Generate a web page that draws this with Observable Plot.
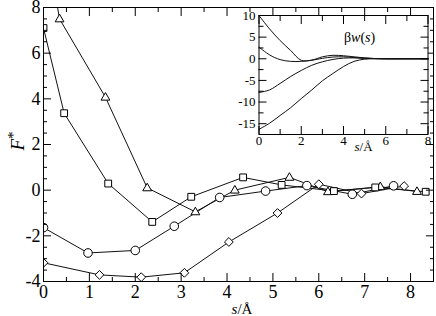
<!DOCTYPE html>
<html><head><meta charset="utf-8">
<script src="https://cdn.jsdelivr.net/npm/d3@7"></script>
<script src="https://cdn.jsdelivr.net/npm/@observablehq/plot@0.6"></script>
<style>
html,body{margin:0;padding:0;background:#fff;}
#wrap{position:relative;width:436px;height:316px;overflow:hidden;background:#fff;}
#inset{position:absolute;left:230px;top:5px;}
svg{display:block}
</style></head><body><div id="wrap"><div id="main"></div><div id="inset"></div></div>
<script>
// ---- main chart data (s in Å, F*) ----
const triS = [0, 0.35, 1.35, 2.26, 3.31, 4.17, 5.36, 6.2, 7.34, 8.14];
const triF = [11.5, 7.5, 4.07, 0.1, -0.95, 0.0, 0.56, -0.07, 0.15, -0.06];
const sqS  = [0, 0.45, 1.41, 2.37, 3.22, 4.35, 5.19, 6.33, 7.23, 8.33];
const sqF  = [7.1, 3.37, 0.29, -1.39, -0.29, 0.56, 0.23, -0.04, 0.12, -0.07];
const cirS = [0, 0.97, 2.0, 2.85, 3.84, 4.84, 5.74, 6.73, 7.63];
const cirF = [-1.64, -2.75, -2.64, -1.58, -0.32, -0.04, 0.2, -0.18, 0.19];
const diaS = [0, 1.22, 2.13, 3.07, 4.04, 5.1, 6.0, 6.93, 7.86];
const diaF = [-3.18, -3.71, -3.81, -3.62, -2.27, -1.0, 0.26, -0.15, 0.18];

const xMajor = [0, 1, 2, 3, 4, 5, 6, 7, 8];
const xMinor = [0.5, 1.5, 2.5, 3.5, 4.5, 5.5, 6.5, 7.5];
const yMajor = [-4, -2, 0, 2, 4, 6, 8];
const yMinor = [-3.5, -3, -2.5, -1.5, -1, -0.5, 0.5, 1, 1.5, 2.5, 3, 3.5, 4.5, 5, 5.5, 6.5, 7, 7.5];
const xLabel = "s/Å";
const yLabel = "F*";

// ---- inset data: beta w(s) ----
const wS = [0, 0.5, 1, 1.5, 2, 2.5, 3, 3.5, 4, 4.5, 5, 5.5, 6, 7, 8];
const wA = [10, 6.9, 4.2, 1.9, -0.35, -0.3, 0.45, 0.8, 0.7, 0.45, 0.2, 0.05, 0, 0, 0];
const wB = [2.7, 0.9, -0.2, -0.6, -0.6, -0.35, 0.1, 0.4, 0.45, 0.3, 0.15, 0.05, 0, 0, 0];
const wC = [-7.8, -7.2, -5.7, -4.1, -2.7, -1.5, -0.7, -0.15, 0.15, 0.2, 0.1, 0.03, 0, 0, 0];
const wD = [-16.3, -14.9, -13.1, -11.3, -9.2, -7.2, -5.1, -3.4, -1.8, -0.6, -0.1, 0, 0, 0, 0];
const ixMajor = [0, 2, 4, 6, 8];
const ixMinor = [1, 3, 5, 7];
const iyMajor = [-15, -10, -5, 0, 5, 10];
const iyMinor = [-12.5, -7.5, -2.5, 2.5, 7.5];
const insetTitle = "βw(s)";
const insetXLabel = "s/Å";

const pts = (xs, ys) => xs.map((x, i) => ({x, y: ys[i]}));

// custom marker shapes
const symCircle = {draw(c){ c.moveTo(4.3,0); c.arc(0,0,4.3,0,2*Math.PI); c.closePath(); }};
const symSquare = {draw(c){ c.moveTo(-3.4,-3.4); c.lineTo(3.4,-3.4); c.lineTo(3.4,3.4); c.lineTo(-3.4,3.4); c.closePath(); }};
const symTri = {draw(c){ c.moveTo(0,-4.7); c.lineTo(4.4,2.9); c.lineTo(-4.4,2.9); c.closePath(); }};
const symDia = {draw(c){ c.moveTo(0,-4.4); c.lineTo(4.4,0); c.lineTo(0,4.4); c.lineTo(-4.4,0); c.closePath(); }};

const fmt = d => String(d);
const serif = "Liberation Serif";
const series = [
  [pts(triS, triF), symTri],
  [pts(sqS, sqF), symSquare],
  [pts(cirS, cirF), symCircle],
  [pts(diaS, diaF), symDia]
];

const main = Plot.plot({
  width: 436, height: 316,
  marginLeft: 43, marginRight: 3, marginTop: 7, marginBottom: 35,
  x: {domain: [0, 8.5]},
  y: {domain: [-4, 8]},
  style: {fontFamily: serif, fontSize: "18px", background: "white", color: "black"},
  marks: [
    ...series.map(([d]) => Plot.line(d, {x: "x", y: "y", stroke: "#111", strokeWidth: 1, clip: true})),
    ...series.map(([d, s]) => Plot.dot(d, {x: "x", y: "y", symbol: s, fill: "white", stroke: "black", strokeWidth: 1, clip: true})),
    Plot.frame({stroke: "black"}),
    Plot.axisX(xMajor, {anchor: "bottom", tickSize: -8, tickPadding: 12, tickFormat: fmt, label: null}),
    Plot.axisX(xMinor, {anchor: "bottom", tickSize: -4, text: null, label: null}),
    Plot.axisX(xMajor, {anchor: "top", tickSize: -8, text: null, label: null}),
    Plot.axisX(xMinor, {anchor: "top", tickSize: -4, text: null, label: null}),
    Plot.axisY(yMajor, {anchor: "left", tickSize: -8, tickPadding: 11, tickFormat: fmt, label: null}),
    Plot.axisY(yMinor, {anchor: "left", tickSize: -4, text: null, label: null}),
    Plot.axisY(yMajor, {anchor: "right", tickSize: -8, text: null, label: null}),
    Plot.axisY(yMinor, {anchor: "right", tickSize: -4, text: null, label: null}),
    Plot.text([xLabel], {text: d => d, frameAnchor: "bottom", dx: 3.5, dy: 32, lineAnchor: "bottom", fontSize: 15}),
    Plot.text([yLabel], {text: d => d, frameAnchor: "left", dx: -26, dy: 6, rotate: -90, fontSize: 19})
  ]
});
document.getElementById("main").appendChild(main);

const inset = Plot.plot({
  width: 206, height: 150,
  marginLeft: 28.5, marginRight: 8.5, marginTop: 10, marginBottom: 21,
  x: {domain: [0, 8]},
  y: {domain: [-17.5, 10]},
  style: {fontFamily: serif, fontSize: "13px", background: "none", color: "black", overflow: "visible"},
  marks: [
    Plot.frame({fill: "white", stroke: null}),
    ...[wA, wB, wC, wD].map(w => Plot.line(pts(wS, w), {x: "x", y: "y", curve: "catmull-rom", stroke: "#111", strokeWidth: 1})),
    Plot.frame({stroke: "black"}),
    Plot.axisX(ixMajor, {anchor: "bottom", tickSize: -8, tickPadding: 9.5, tickFormat: fmt, label: null}),
    Plot.axisX(ixMinor, {anchor: "bottom", tickSize: -5, text: null, label: null}),
    Plot.axisX(ixMajor, {anchor: "top", tickSize: -8, text: null, label: null}),
    Plot.axisX(ixMinor, {anchor: "top", tickSize: -5, text: null, label: null}),
    Plot.axisY(iyMajor, {anchor: "left", tickSize: -8, tickPadding: 11.5, tickFormat: fmt, label: null}),
    Plot.axisY(iyMinor, {anchor: "left", tickSize: -5, text: null, label: null}),
    Plot.axisY(iyMajor, {anchor: "right", tickSize: -8, text: null, label: null}),
    Plot.axisY(iyMinor, {anchor: "right", tickSize: -5, text: null, label: null}),
    Plot.text([insetTitle], {text: d => d, x: 4.76, y: 5, fontSize: 14}),
    Plot.text([insetXLabel], {text: d => d, x: 4.95, frameAnchor: "bottom", dy: 7, lineAnchor: "top", fontSize: 13})
  ]
});
document.getElementById("inset").appendChild(inset);

// italic parts of labels
function styleText(svg, content, html) {
  d3.select(svg).selectAll("text").filter(function(){ return this.textContent === content && this.childElementCount === 0; }).html(html);
}
styleText(main, xLabel, '<tspan font-style="italic">s</tspan>/Å');
styleText(main, yLabel, '<tspan font-style="italic">F</tspan><tspan font-size="0.8em" dy="-0.35em">*</tspan>');
styleText(inset, insetXLabel, '<tspan font-style="italic">s</tspan>/Å');
styleText(inset, insetTitle, 'β<tspan font-style="italic">w</tspan>(<tspan font-style="italic">s</tspan>)');
</script></body></html>
